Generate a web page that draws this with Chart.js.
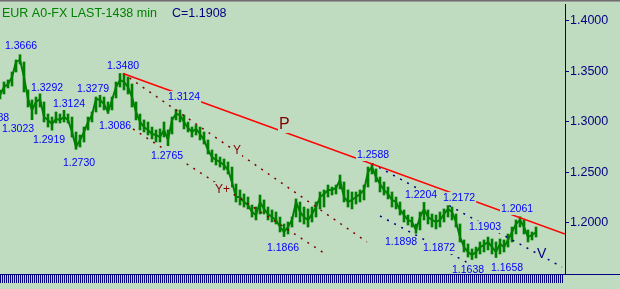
<!DOCTYPE html>
<html><head><meta charset="utf-8">
<script src="https://cdn.jsdelivr.net/npm/chart.js@4/dist/chart.umd.min.js"></script>
<style>html,body{margin:0;padding:0;background:#C0DCC0;overflow:hidden}canvas{display:block}</style>
</head><body>
<canvas id="c" width="620" height="289"></canvas>
<script>
// ---- price bars (one entry per bar, index = bar number) ----
const highs = [1.3317,1.3396,1.3416,1.3495,1.3614,1.3666,1.3594,1.3317,1.3218,1.3247,
1.3292,1.3198,1.3079,1.3049,1.3099,1.3079,1.3124,1.3079,1.3049,1.2901,
1.2871,1.2950,1.3049,1.3099,1.3247,1.3279,1.3247,1.3198,1.3247,1.3396,
1.3480,1.3475,1.3445,1.3376,1.3198,1.3079,1.3020,1.3000,1.2950,1.2921,
1.2931,1.3000,1.2921,1.3049,1.3124,1.3119,1.3069,1.3000,1.2950,1.2970,
1.2950,1.2901,1.2822,1.2723,1.2683,1.2653,1.2634,1.2604,1.2554,1.2386,
1.2327,1.2287,1.2257,1.2178,1.2158,1.2277,1.2228,1.2158,1.2129,1.2109,
1.2059,1.1990,1.2010,1.2059,1.2238,1.2208,1.2158,1.2139,1.2158,1.2208,
1.2307,1.2327,1.2376,1.2356,1.2376,1.2475,1.2406,1.2327,1.2307,1.2307,
1.2327,1.2376,1.2554,1.2588,1.2535,1.2455,1.2406,1.2356,1.2307,1.2257,
1.2208,1.2129,1.2079,1.2059,1.1990,1.2109,1.2204,1.2129,1.2089,1.2079,
1.2109,1.2139,1.2172,1.2158,1.2089,1.1990,1.1832,1.1792,1.1743,1.1762,
1.1812,1.1832,1.1861,1.1842,1.1812,1.1842,1.1832,1.1891,1.1960,1.2030,
1.2061,1.2030,1.1931,1.1911,1.1960];
const lows = [1.3228,1.3277,1.3337,1.3356,1.3495,1.3574,1.3297,1.3148,1.3023,1.3079,
1.3148,1.3000,1.2950,1.2919,1.2990,1.2990,1.3000,1.2990,1.2851,1.2730,
1.2752,1.2802,1.2921,1.3000,1.3099,1.3148,1.3119,1.3086,1.3119,1.3238,
1.3346,1.3317,1.3277,1.3148,1.3020,1.2921,1.2901,1.2871,1.2832,1.2802,
1.2802,1.2851,1.2765,1.2881,1.3020,1.3000,1.2931,1.2901,1.2851,1.2871,
1.2822,1.2782,1.2683,1.2604,1.2574,1.2554,1.2525,1.2485,1.2356,1.2208,
1.2178,1.2158,1.2139,1.2059,1.2030,1.2089,1.2089,1.2030,1.2010,1.1990,
1.1911,1.1866,1.1891,1.1960,1.2059,1.2010,1.1990,1.1960,1.2010,1.2059,
1.2139,1.2158,1.2257,1.2277,1.2287,1.2337,1.2208,1.2158,1.2139,1.2188,
1.2208,1.2228,1.2356,1.2485,1.2406,1.2307,1.2277,1.2238,1.2158,1.2139,
1.2079,1.2010,1.1980,1.1960,1.1898,1.1931,1.2030,1.1990,1.1960,1.1941,
1.1960,1.2010,1.2059,1.2030,1.1960,1.1812,1.1713,1.1663,1.1638,1.1653,
1.1693,1.1713,1.1733,1.1693,1.1658,1.1693,1.1713,1.1762,1.1812,1.1891,
1.1960,1.1891,1.1812,1.1832,1.1861];
const closes = [1.3267,1.3346,1.3376,1.3445,1.3594,1.3614,1.3445,1.3228,1.3119,1.3198,
1.3228,1.3049,1.3020,1.2980,1.3030,1.3020,1.3049,1.3020,1.2901,1.2752,
1.2822,1.2901,1.3000,1.3069,1.3228,1.3218,1.3178,1.3099,1.3218,1.3346,
1.3416,1.3396,1.3346,1.3247,1.3099,1.3000,1.2950,1.2921,1.2881,1.2871,
1.2851,1.2921,1.2822,1.3020,1.3079,1.3069,1.3000,1.2941,1.2901,1.2931,
1.2881,1.2822,1.2723,1.2653,1.2624,1.2604,1.2574,1.2525,1.2406,1.2257,
1.2257,1.2208,1.2178,1.2109,1.2079,1.2208,1.2139,1.2089,1.2059,1.2030,
1.1960,1.1911,1.1960,1.2030,1.2208,1.2109,1.2059,1.2030,1.2089,1.2158,
1.2257,1.2287,1.2327,1.2327,1.2347,1.2426,1.2257,1.2208,1.2228,1.2257,
1.2287,1.2327,1.2505,1.2554,1.2455,1.2386,1.2327,1.2287,1.2228,1.2208,
1.2129,1.2079,1.2030,1.2010,1.1931,1.2059,1.2139,1.2059,1.2030,1.2010,
1.2030,1.2089,1.2139,1.2109,1.2010,1.1861,1.1762,1.1713,1.1683,1.1713,
1.1762,1.1782,1.1812,1.1762,1.1713,1.1792,1.1762,1.1832,1.1911,1.1990,
1.2030,1.1960,1.1861,1.1881,1.1908];

// ---- axis ----
const yTicks = [1.2000, 1.2500, 1.3000, 1.3500, 1.4000];
const yMin = 1.1495, yMax = 1.4168;
const xMin = 0, xMax = 141.25;

// ---- pivot annotations (text, bar index, price) ----
const pivotText = ["1.3666","1.3292","1.3124","1.3279","1.3480","1.3124","1.3086","1.3023","1.3088","1.2919",
                   "1.2730","1.2765","1.1866","1.2588","1.2204","1.2172","1.2061","1.1903","1.1898","1.1872","1.1638","1.1658"];
const pivotX = [1.25,7.75,13.25,19.25,26.75,42,24.75,0.5,-5.75,8.25,
                15.75,37.75,66.75,89.25,101.25,110.75,125.25,117.25,96.25,105.75,113,122.75];
const pivotY = [1.3752,1.3341,1.3178,1.3327,1.3554,1.3247,1.2960,1.2931,1.3040,1.2822,
                1.2594,1.2663,1.1752,1.2673,1.2277,1.2248,1.2139,1.1960,1.1812,1.1752,1.1535,1.1555];

// ---- wave letters ----
const letterText = ["P","Y","Y+","V"];
const letterX = [69.75, 58.25, 53.75, 134.25];
const letterY = [1.2980, 1.2723, 1.2337, 1.1693];

// ---- trend lines (bar index, price) ----
const trendP_x  = [30.75, 141.25], trendP_y  = [1.3480, 1.1891];
const trendY_x  = [30.75, 91.75],  trendY_y  = [1.3480, 1.1812];
const trendYp_x = [33.25, 81.75],  trendYp_y = [1.2931, 1.1683];
const trendV1_x = [93, 140.5],     trendV1_y = [1.2588, 1.1564];
const trendV2_x = [95, 121.25],    trendV2_y = [1.2069, 1.1515];

const BG = '#C0DCC0', GREEN = '#008000', NAVY = '#000080', BLUE = '#0000FF', RED = '#FF0000', DRED = '#800000';
const FONT = '"Liberation Sans", Arial, sans-serif';

const seg = (xs, ys) => xs.map((x, k) => ({x, y: ys[k]}));
const barData = closes.map((c, i) => ({x: i, y: [lows[i], highs[i]]}));
const closeData = closes.map((c, i) => ({x: i, y: c}));

function lineDs(data, color, dash, w) {
  return {type: 'line', data, borderColor: color, borderWidth: w, borderDash: dash,
          pointRadius: 0, tension: 0, fill: false, order: 0};
}

const deco = {
  id: 'deco',
  beforeDraw(chart) {
    const ctx = chart.ctx;
    ctx.save(); ctx.fillStyle = BG; ctx.fillRect(0, 0, chart.width, chart.height); ctx.restore();
  },
  afterDatasetsDraw(chart) {
    const ctx = chart.ctx, xs = chart.scales.x, ys = chart.scales.y;
    ctx.save();
    ctx.textBaseline = 'middle';
    ctx.font = '10.5px ' + FONT;
    pivotText.forEach((t, i) => {
      const px = xs.getPixelForValue(pivotX[i]), py = ys.getPixelForValue(pivotY[i]);
      const w = ctx.measureText(t).width;
      ctx.fillStyle = BG; ctx.fillRect(px - 1, py - 6, w + 2, 12);
      ctx.fillStyle = BLUE; ctx.fillText(t, px, py + 0.5);
    });
    const lf = [16, 12, 12, 14], lc = [DRED, DRED, DRED, NAVY];
    letterText.forEach((t, i) => {
      ctx.font = lf[i] + 'px ' + FONT;
      const px = xs.getPixelForValue(letterX[i]), py = ys.getPixelForValue(letterY[i]);
      const w = ctx.measureText(t).width;
      ctx.fillStyle = BG; ctx.fillRect(px - 1, py - lf[i] / 2 - 1, w + 2, lf[i] + 2);
      ctx.fillStyle = lc[i]; ctx.fillText(t, px, py + 0.5);
    });
    ctx.restore();
  },
  afterDraw(chart) {
    const ctx = chart.ctx, a = chart.chartArea;
    ctx.save();
    // top frame
    ctx.fillStyle = '#6E6E6E'; ctx.fillRect(0, 0, chart.width, 1);
    ctx.fillStyle = '#9A9A9A'; ctx.fillRect(0, 1, chart.width, 1);
    // bottom time strip
    ctx.fillStyle = NAVY;
    ctx.fillRect(0, a.bottom, chart.width, 1);
    for (let x = 0; x <= a.right - 3; x += 2) ctx.fillRect(x, a.bottom + 1, 1, 8);
    // title
    ctx.textBaseline = 'alphabetic';
    ctx.font = '12.5px ' + FONT;
    ctx.fillStyle = GREEN; ctx.fillText('EUR A0-FX LAST-1438 min', 2, 17);
    ctx.fillStyle = NAVY; ctx.fillText('C=' + closes[closes.length - 1].toFixed(4), 172, 17);
    ctx.restore();
  }
};

new Chart(document.getElementById('c'), {
  type: 'bar',
  data: {
    datasets: [
      lineDs(seg(trendP_x, trendP_y), RED, [], 1.5),
      lineDs(seg(trendY_x, trendY_y), DRED, [2, 6], 1.5),
      lineDs(seg(trendYp_x, trendYp_y), DRED, [2, 6], 1.5),
      lineDs(seg(trendV1_x, trendV1_y), NAVY, [2, 6], 1.5),
      lineDs(seg(trendV2_x, trendV2_y), NAVY, [2, 6], 1.5),
      {type: 'line', data: closeData, borderColor: GREEN, borderWidth: 2, pointRadius: 0, tension: 0, fill: false, order: 1},
      {type: 'bar', data: barData, backgroundColor: GREEN, borderWidth: 0, barThickness: 2, order: 2}
    ]
  },
  options: {
    responsive: false, animation: false, devicePixelRatio: 1,
    layout: {padding: {top: 4, bottom: 15, left: 0, right: 0}},
    plugins: {legend: {display: false}, tooltip: {enabled: false}},
    scales: {
      x: {type: 'linear', min: xMin, max: xMax, display: false, offset: false},
      y: {
        position: 'right', min: yMin, max: yMax,
        afterBuildTicks: s => { s.ticks = yTicks.map(v => ({value: v})); },
        afterFit: s => { s.width = 55; s.paddingTop = 0; s.paddingBottom = 0; },
        grid: {drawOnChartArea: false, drawTicks: true, tickLength: 4, color: NAVY, tickWidth: 1},
        border: {display: true, color: NAVY, width: 1},
        ticks: {color: NAVY, padding: 1, font: {family: FONT, size: 12.5}, callback: v => Number(v).toFixed(4)}
      }
    }
  },
  plugins: [deco]
});
</script>
</body></html>
